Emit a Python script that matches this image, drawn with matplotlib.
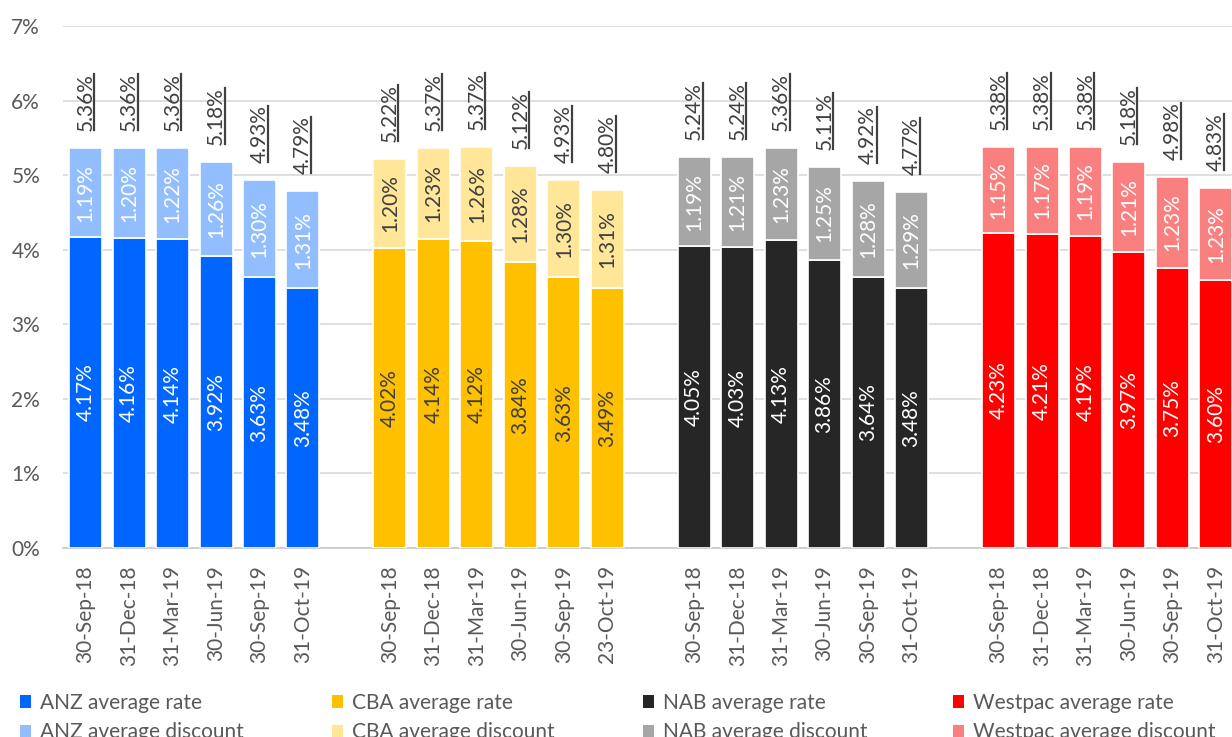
import matplotlib
matplotlib.use("Agg")
import matplotlib.pyplot as plt
from matplotlib.lines import Line2D
from matplotlib.transforms import IdentityTransform

plt.rcParams["font.family"] = ["Lato", "DejaVu Sans"]

banks = ["ANZ", "CBA", "NAB", "Westpac"]
dates_anz = ["30-Sep-18", "31-Dec-18", "31-Mar-19", "30-Jun-19", "30-Sep-19", "31-Oct-19"]
dates_cba = ["30-Sep-18", "31-Dec-18", "31-Mar-19", "30-Jun-19", "30-Sep-19", "23-Oct-19"]
dates_nab = ["30-Sep-18", "31-Dec-18", "31-Mar-19", "30-Jun-19", "30-Sep-19", "31-Oct-19"]
dates_wbc = ["30-Sep-18", "31-Dec-18", "31-Mar-19", "30-Jun-19", "30-Sep-19", "31-Oct-19"]

anz_rate = [4.17, 4.16, 4.14, 3.92, 3.63, 3.48]
anz_discount = [1.19, 1.20, 1.22, 1.26, 1.30, 1.31]
anz_total = [5.36, 5.36, 5.36, 5.18, 4.93, 4.79]

cba_rate = [4.02, 4.14, 4.12, 3.84, 3.63, 3.49]
cba_discount = [1.20, 1.23, 1.26, 1.28, 1.30, 1.31]
cba_total = [5.22, 5.37, 5.37, 5.12, 4.93, 4.80]

nab_rate = [4.05, 4.03, 4.13, 3.86, 3.64, 3.48]
nab_discount = [1.19, 1.21, 1.23, 1.25, 1.28, 1.29]
nab_total = [5.24, 5.24, 5.36, 5.11, 4.92, 4.77]

wbc_rate = [4.23, 4.21, 4.19, 3.97, 3.75, 3.60]
wbc_discount = [1.15, 1.17, 1.19, 1.21, 1.23, 1.23]
wbc_total = [5.38, 5.38, 5.38, 5.18, 4.98, 4.83]

groups = [
    ("ANZ", dates_anz, anz_rate, anz_discount, anz_total, "#0066FF", "#92BEFF", "white", "white"),
    ("CBA", dates_cba, cba_rate, cba_discount, cba_total, "#FFC000", "#FFE699", "#404040", "#404040"),
    ("NAB", dates_nab, nab_rate, nab_discount, nab_total, "#262626", "#A6A6A6", "white", "white"),
    ("Westpac", dates_wbc, wbc_rate, wbc_discount, wbc_total, "#FF0000", "#FA7F7F", "white", "white"),
]

W, H = 1232, 737
fig = plt.figure(figsize=(W / 100, H / 100), dpi=100)
ax = fig.add_axes([63 / W, 189 / H, 1 - 63 / W, 522 / H])

label_color = "#595959"
bar_w = 0.76
tick_pos, tick_lab = [], []
legend_sets = []
total_texts = []

for g, (name, dates, rate, disc, total, c_rate, c_disc, t_rate, t_disc) in enumerate(groups):
    xs = [g * 7 + i for i in range(len(rate))]
    tick_pos += xs
    tick_lab += dates
    b1 = ax.bar(xs, rate, width=bar_w, color=c_rate, edgecolor="white", linewidth=1.2,
                zorder=3, label=f"{name} average rate")
    b2 = ax.bar(xs, disc, bottom=rate, width=bar_w, color=c_disc, edgecolor="white",
                linewidth=1.2, zorder=3, label=f"{name} average discount")
    legend_sets.append((b1, b2))
    for x, r, d, t in zip(xs, rate, disc, total):
        ax.text(x, r / 2, f"{r:.2f}%", rotation=90, ha="center", va="center",
                color=t_rate, fontsize=15, zorder=4)
        ax.text(x, r + d / 2, f"{d:.2f}%", rotation=90, ha="center", va="center",
                color=t_disc, fontsize=15, zorder=4)
        txt = ax.annotate(f"{t:.2f}%", xy=(x, r + d), xytext=(0, 17),
                          textcoords="offset pixels", rotation=90, ha="center",
                          va="bottom", color="#404040", fontsize=15, zorder=4)
        total_texts.append(txt)

ax.set_xlim(-0.52, 26.37)
ax.set_ylim(0, 7)
ax.set_yticks(range(0, 8))
ax.set_yticklabels([f"{v}%" for v in range(0, 8)])
ax.set_xticks(tick_pos)
ax.set_xticklabels(tick_lab, rotation=90)
ax.tick_params(axis="y", length=0, pad=16.5, labelsize=15, labelcolor=label_color)
ax.tick_params(axis="x", length=0, pad=12.5, labelsize=15, labelcolor=label_color)
ax.grid(axis="y", color="#D9D9D9", linewidth=1.2, zorder=0)
ax.set_axisbelow(True)
for s in ["top", "right", "left"]:
    ax.spines[s].set_visible(False)
ax.spines["bottom"].set_color("#C8C8C8")
ax.spines["bottom"].set_linewidth(1.2)

# one two-row legend column per bank
legend_x = [20, 332, 643, 953]
for (b1, b2), lx in zip(legend_sets, legend_x):
    leg = fig.legend(handles=[b1, b2], loc="upper left",
                     bbox_to_anchor=(lx / W, 1 - 693 / H), frameon=False,
                     fontsize=15, handlelength=0.55, handleheight=0.55,
                     handletextpad=0.4, borderpad=0, borderaxespad=0,
                     labelspacing=0.45, labelcolor=label_color)
    for h in leg.legend_handles:
        h.set_edgecolor("none")

# underline the total labels (a vertical rule beside the rotated text)
fig.canvas.draw()
renderer = fig.canvas.get_renderer()
for txt in total_texts:
    bb = txt.get_window_extent(renderer)
    x_line = bb.x1 - 1.5
    fig.add_artist(Line2D([x_line, x_line], [bb.y0 + 1, bb.y1 - 1], color="#404040",
                          linewidth=1.6, transform=IdentityTransform()))

fig.savefig("out.png", dpi=100)
